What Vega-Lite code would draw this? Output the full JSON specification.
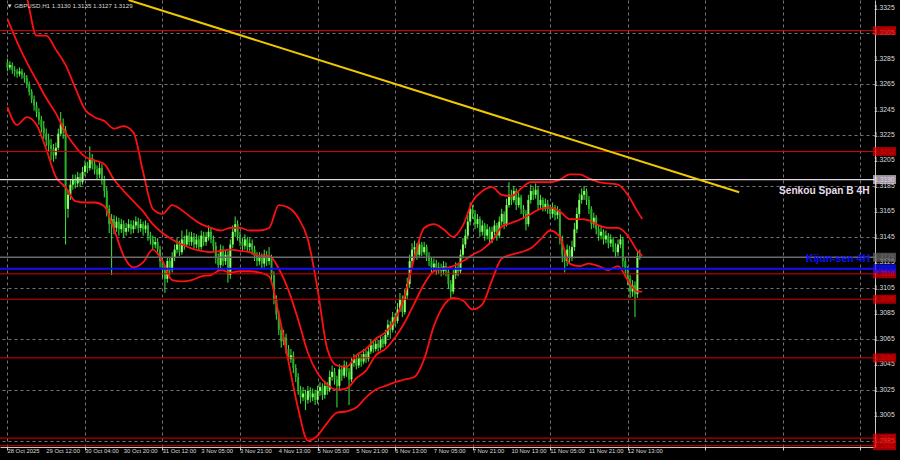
{
"$schema": "https://vega.github.io/schema/vega-lite/v6.json",
"width": 875, "height": 447,
"autosize": {"type": "none"},
"padding": {"left": 0, "top": 0, "right": 25, "bottom": 13},
"background": "#000000",
"config": {
 "view": {"stroke": null},
 "axis": {"labels": false, "domainColor": "#c8c8c8", "domainWidth": 1, "gridColor": "#747474", "gridDash": [3, 3], "gridWidth": 1, "tickColor": "#c8c8c8"}
},
"datasets": {
"candles": [
{"i":0,"o":1.3282,"h":1.3285,"l":1.3275,"c":1.3278},{"i":1,"o":1.3278,"h":1.3283,"l":1.3276,"c":1.3280},{"i":2,"o":1.3280,"h":1.3282,"l":1.3273,"c":1.3276},{"i":3,"o":1.3276,"h":1.3279,"l":1.3271,"c":1.3275},{"i":4,"o":1.3275,"h":1.3277,"l":1.3270,"c":1.3273},{"i":5,"o":1.3273,"h":1.3278,"l":1.3271,"c":1.3275},{"i":6,"o":1.3275,"h":1.3277,"l":1.3269,"c":1.3272},{"i":7,"o":1.3272,"h":1.3274,"l":1.3266,"c":1.3270},{"i":8,"o":1.3270,"h":1.3272,"l":1.3262,"c":1.3265},{"i":9,"o":1.3265,"h":1.3267,"l":1.3256,"c":1.3259},
{"i":10,"o":1.3259,"h":1.3261,"l":1.3250,"c":1.3253},{"i":11,"o":1.3253,"h":1.3256,"l":1.3244,"c":1.3248},{"i":12,"o":1.3248,"h":1.3251,"l":1.3239,"c":1.3243},{"i":13,"o":1.3243,"h":1.3246,"l":1.3233,"c":1.3237},{"i":14,"o":1.3237,"h":1.3240,"l":1.3227,"c":1.3231},{"i":15,"o":1.3231,"h":1.3236,"l":1.3222,"c":1.3226},{"i":16,"o":1.3226,"h":1.3230,"l":1.3216,"c":1.3221},{"i":17,"o":1.3221,"h":1.3226,"l":1.3212,"c":1.3217},{"i":18,"o":1.3217,"h":1.3222,"l":1.3205,"c":1.3214},{"i":19,"o":1.3214,"h":1.3218,"l":1.3204,"c":1.3209},
{"i":20,"o":1.3209,"h":1.3219,"l":1.3206,"c":1.3215},{"i":21,"o":1.3215,"h":1.3230,"l":1.3213,"c":1.3226},{"i":22,"o":1.3226,"h":1.3243,"l":1.3224,"c":1.3234},{"i":23,"o":1.3234,"h":1.3238,"l":1.3222,"c":1.3229},{"i":24,"o":1.3229,"h":1.3232,"l":1.3139,"c":1.3167},{"i":25,"o":1.3167,"h":1.3182,"l":1.3160,"c":1.3178},{"i":26,"o":1.3178,"h":1.3190,"l":1.3174,"c":1.3186},{"i":27,"o":1.3186,"h":1.3194,"l":1.3182,"c":1.3190},{"i":28,"o":1.3190,"h":1.3194,"l":1.3183,"c":1.3187},{"i":29,"o":1.3187,"h":1.3196,"l":1.3184,"c":1.3192},
{"i":30,"o":1.3192,"h":1.3195,"l":1.3184,"c":1.3188},{"i":31,"o":1.3188,"h":1.3200,"l":1.3186,"c":1.3196},{"i":32,"o":1.3196,"h":1.3205,"l":1.3193,"c":1.3201},{"i":33,"o":1.3201,"h":1.3204,"l":1.3195,"c":1.3199},{"i":34,"o":1.3199,"h":1.3216,"l":1.3197,"c":1.3207},{"i":35,"o":1.3207,"h":1.3210,"l":1.3198,"c":1.3202},{"i":36,"o":1.3202,"h":1.3205,"l":1.3194,"c":1.3198},{"i":37,"o":1.3198,"h":1.3201,"l":1.3190,"c":1.3194},{"i":38,"o":1.3194,"h":1.3203,"l":1.3191,"c":1.3199},{"i":39,"o":1.3199,"h":1.3202,"l":1.3186,"c":1.3190},
{"i":40,"o":1.3190,"h":1.3193,"l":1.3176,"c":1.3181},{"i":41,"o":1.3181,"h":1.3184,"l":1.3161,"c":1.3167},{"i":42,"o":1.3167,"h":1.3170,"l":1.3148,"c":1.3155},{"i":43,"o":1.3155,"h":1.3163,"l":1.3115,"c":1.3159},{"i":44,"o":1.3159,"h":1.3162,"l":1.3147,"c":1.3152},{"i":45,"o":1.3152,"h":1.3161,"l":1.3149,"c":1.3157},{"i":46,"o":1.3157,"h":1.3160,"l":1.3146,"c":1.3151},{"i":47,"o":1.3151,"h":1.3159,"l":1.3148,"c":1.3155},{"i":48,"o":1.3155,"h":1.3158,"l":1.3144,"c":1.3149},{"i":49,"o":1.3149,"h":1.3156,"l":1.3146,"c":1.3152},
{"i":50,"o":1.3152,"h":1.3159,"l":1.3149,"c":1.3155},{"i":51,"o":1.3155,"h":1.3158,"l":1.3147,"c":1.3151},{"i":52,"o":1.3151,"h":1.3158,"l":1.3148,"c":1.3154},{"i":53,"o":1.3154,"h":1.3161,"l":1.3151,"c":1.3157},{"i":54,"o":1.3157,"h":1.3160,"l":1.3148,"c":1.3152},{"i":55,"o":1.3152,"h":1.3159,"l":1.3149,"c":1.3155},{"i":56,"o":1.3155,"h":1.3157,"l":1.3146,"c":1.3151},{"i":57,"o":1.3151,"h":1.3158,"l":1.3148,"c":1.3154},{"i":58,"o":1.3154,"h":1.3156,"l":1.3142,"c":1.3146},{"i":59,"o":1.3146,"h":1.3149,"l":1.3139,"c":1.3143},
{"i":60,"o":1.3143,"h":1.3146,"l":1.3135,"c":1.3139},{"i":61,"o":1.3139,"h":1.3145,"l":1.3136,"c":1.3141},{"i":62,"o":1.3141,"h":1.3144,"l":1.3131,"c":1.3135},{"i":63,"o":1.3135,"h":1.3138,"l":1.3121,"c":1.3126},{"i":64,"o":1.3126,"h":1.3129,"l":1.3113,"c":1.3119},{"i":65,"o":1.3119,"h":1.3122,"l":1.3101,"c":1.3112},{"i":66,"o":1.3112,"h":1.3129,"l":1.3109,"c":1.3126},{"i":67,"o":1.3126,"h":1.3129,"l":1.3115,"c":1.3119},{"i":68,"o":1.3119,"h":1.3133,"l":1.3117,"c":1.3129},{"i":69,"o":1.3129,"h":1.3139,"l":1.3126,"c":1.3135},
{"i":70,"o":1.3135,"h":1.3144,"l":1.3132,"c":1.3139},{"i":71,"o":1.3139,"h":1.3142,"l":1.3130,"c":1.3133},{"i":72,"o":1.3133,"h":1.3150,"l":1.3131,"c":1.3143},{"i":73,"o":1.3143,"h":1.3146,"l":1.3135,"c":1.3139},{"i":74,"o":1.3139,"h":1.3151,"l":1.3137,"c":1.3146},{"i":75,"o":1.3146,"h":1.3149,"l":1.3138,"c":1.3141},{"i":76,"o":1.3141,"h":1.3149,"l":1.3138,"c":1.3145},{"i":77,"o":1.3145,"h":1.3148,"l":1.3136,"c":1.3139},{"i":78,"o":1.3139,"h":1.3147,"l":1.3136,"c":1.3143},{"i":79,"o":1.3143,"h":1.3146,"l":1.3134,"c":1.3137},
{"i":80,"o":1.3137,"h":1.3150,"l":1.3135,"c":1.3146},{"i":81,"o":1.3146,"h":1.3149,"l":1.3138,"c":1.3141},{"i":82,"o":1.3141,"h":1.3149,"l":1.3138,"c":1.3145},{"i":83,"o":1.3145,"h":1.3154,"l":1.3142,"c":1.3149},{"i":84,"o":1.3149,"h":1.3152,"l":1.3140,"c":1.3143},{"i":85,"o":1.3143,"h":1.3146,"l":1.3134,"c":1.3138},{"i":86,"o":1.3138,"h":1.3141,"l":1.3124,"c":1.3129},{"i":87,"o":1.3129,"h":1.3132,"l":1.3118,"c":1.3123},{"i":88,"o":1.3123,"h":1.3139,"l":1.3120,"c":1.3135},{"i":89,"o":1.3135,"h":1.3138,"l":1.3122,"c":1.3126},
{"i":90,"o":1.3126,"h":1.3135,"l":1.3123,"c":1.3131},{"i":91,"o":1.3131,"h":1.3134,"l":1.3109,"c":1.3115},{"i":92,"o":1.3115,"h":1.3143,"l":1.3112,"c":1.3139},{"i":93,"o":1.3139,"h":1.3154,"l":1.3136,"c":1.3149},{"i":94,"o":1.3149,"h":1.3161,"l":1.3145,"c":1.3155},{"i":95,"o":1.3155,"h":1.3158,"l":1.3142,"c":1.3146},{"i":96,"o":1.3146,"h":1.3149,"l":1.3138,"c":1.3141},{"i":97,"o":1.3141,"h":1.3144,"l":1.3134,"c":1.3138},{"i":98,"o":1.3138,"h":1.3147,"l":1.3135,"c":1.3143},{"i":99,"o":1.3143,"h":1.3145,"l":1.3133,"c":1.3137},
{"i":100,"o":1.3137,"h":1.3144,"l":1.3134,"c":1.3140},{"i":101,"o":1.3140,"h":1.3143,"l":1.3131,"c":1.3135},{"i":102,"o":1.3135,"h":1.3138,"l":1.3126,"c":1.3130},{"i":103,"o":1.3130,"h":1.3133,"l":1.3122,"c":1.3126},{"i":104,"o":1.3126,"h":1.3133,"l":1.3123,"c":1.3129},{"i":105,"o":1.3129,"h":1.3132,"l":1.3120,"c":1.3124},{"i":106,"o":1.3124,"h":1.3135,"l":1.3121,"c":1.3131},{"i":107,"o":1.3131,"h":1.3134,"l":1.3122,"c":1.3126},{"i":108,"o":1.3126,"h":1.3137,"l":1.3123,"c":1.3129},{"i":109,"o":1.3129,"h":1.3131,"l":1.3110,"c":1.3115},
{"i":110,"o":1.3115,"h":1.3118,"l":1.3092,"c":1.3096},{"i":111,"o":1.3096,"h":1.3099,"l":1.3080,"c":1.3084},{"i":112,"o":1.3084,"h":1.3087,"l":1.3068,"c":1.3072},{"i":113,"o":1.3072,"h":1.3075,"l":1.3058,"c":1.3063},{"i":114,"o":1.3063,"h":1.3072,"l":1.3060,"c":1.3066},{"i":115,"o":1.3066,"h":1.3069,"l":1.3053,"c":1.3057},{"i":116,"o":1.3057,"h":1.3060,"l":1.3045,"c":1.3049},{"i":117,"o":1.3049,"h":1.3057,"l":1.3046,"c":1.3052},{"i":118,"o":1.3052,"h":1.3055,"l":1.3038,"c":1.3042},{"i":119,"o":1.3042,"h":1.3045,"l":1.3031,"c":1.3035},
{"i":120,"o":1.3035,"h":1.3038,"l":1.3021,"c":1.3025},{"i":121,"o":1.3025,"h":1.3028,"l":1.3014,"c":1.3019},{"i":122,"o":1.3019,"h":1.3027,"l":1.3016,"c":1.3022},{"i":123,"o":1.3022,"h":1.3025,"l":1.3009,"c":1.3017},{"i":124,"o":1.3017,"h":1.3028,"l":1.3014,"c":1.3024},{"i":125,"o":1.3024,"h":1.3027,"l":1.3015,"c":1.3019},{"i":126,"o":1.3019,"h":1.3026,"l":1.3016,"c":1.3022},{"i":127,"o":1.3022,"h":1.3025,"l":1.3013,"c":1.3017},{"i":128,"o":1.3017,"h":1.3028,"l":1.3014,"c":1.3024},{"i":129,"o":1.3024,"h":1.3031,"l":1.3020,"c":1.3027},
{"i":130,"o":1.3027,"h":1.3030,"l":1.3017,"c":1.3021},{"i":131,"o":1.3021,"h":1.3032,"l":1.3018,"c":1.3028},{"i":132,"o":1.3028,"h":1.3031,"l":1.3021,"c":1.3025},{"i":133,"o":1.3025,"h":1.3040,"l":1.3023,"c":1.3035},{"i":134,"o":1.3035,"h":1.3044,"l":1.3032,"c":1.3039},{"i":135,"o":1.3039,"h":1.3042,"l":1.3029,"c":1.3033},{"i":136,"o":1.3033,"h":1.3036,"l":1.3011,"c":1.3028},{"i":137,"o":1.3028,"h":1.3045,"l":1.3025,"c":1.3041},{"i":138,"o":1.3041,"h":1.3044,"l":1.3032,"c":1.3036},{"i":139,"o":1.3036,"h":1.3048,"l":1.3034,"c":1.3044},
{"i":140,"o":1.3044,"h":1.3047,"l":1.3035,"c":1.3039},{"i":141,"o":1.3039,"h":1.3042,"l":1.3013,"c":1.3033},{"i":142,"o":1.3033,"h":1.3050,"l":1.3031,"c":1.3046},{"i":143,"o":1.3046,"h":1.3053,"l":1.3043,"c":1.3049},{"i":144,"o":1.3049,"h":1.3052,"l":1.3041,"c":1.3044},{"i":145,"o":1.3044,"h":1.3054,"l":1.3042,"c":1.3050},{"i":146,"o":1.3050,"h":1.3053,"l":1.3043,"c":1.3047},{"i":147,"o":1.3047,"h":1.3057,"l":1.3045,"c":1.3053},{"i":148,"o":1.3053,"h":1.3056,"l":1.3046,"c":1.3049},{"i":149,"o":1.3049,"h":1.3059,"l":1.3047,"c":1.3055},
{"i":150,"o":1.3055,"h":1.3064,"l":1.3053,"c":1.3060},{"i":151,"o":1.3060,"h":1.3063,"l":1.3054,"c":1.3057},{"i":152,"o":1.3057,"h":1.3065,"l":1.3055,"c":1.3061},{"i":153,"o":1.3061,"h":1.3064,"l":1.3055,"c":1.3058},{"i":154,"o":1.3058,"h":1.3068,"l":1.3056,"c":1.3064},{"i":155,"o":1.3064,"h":1.3067,"l":1.3058,"c":1.3061},{"i":156,"o":1.3061,"h":1.3072,"l":1.3059,"c":1.3068},{"i":157,"o":1.3068,"h":1.3080,"l":1.3066,"c":1.3076},{"i":158,"o":1.3076,"h":1.3079,"l":1.3065,"c":1.3072},{"i":159,"o":1.3072,"h":1.3086,"l":1.3070,"c":1.3082},
{"i":160,"o":1.3082,"h":1.3085,"l":1.3075,"c":1.3079},{"i":161,"o":1.3079,"h":1.3093,"l":1.3077,"c":1.3088},{"i":162,"o":1.3088,"h":1.3101,"l":1.3086,"c":1.3096},{"i":163,"o":1.3096,"h":1.3099,"l":1.3082,"c":1.3086},{"i":164,"o":1.3086,"h":1.3104,"l":1.3084,"c":1.3099},{"i":165,"o":1.3099,"h":1.3113,"l":1.3096,"c":1.3108},{"i":166,"o":1.3108,"h":1.3131,"l":1.3105,"c":1.3126},{"i":167,"o":1.3126,"h":1.3140,"l":1.3122,"c":1.3135},{"i":168,"o":1.3135,"h":1.3142,"l":1.3130,"c":1.3137},{"i":169,"o":1.3137,"h":1.3140,"l":1.3127,"c":1.3131},
{"i":170,"o":1.3131,"h":1.3143,"l":1.3129,"c":1.3139},{"i":171,"o":1.3139,"h":1.3141,"l":1.3130,"c":1.3133},{"i":172,"o":1.3133,"h":1.3141,"l":1.3131,"c":1.3137},{"i":173,"o":1.3137,"h":1.3139,"l":1.3126,"c":1.3130},{"i":174,"o":1.3130,"h":1.3133,"l":1.3122,"c":1.3126},{"i":175,"o":1.3126,"h":1.3129,"l":1.3117,"c":1.3121},{"i":176,"o":1.3121,"h":1.3128,"l":1.3118,"c":1.3124},{"i":177,"o":1.3124,"h":1.3127,"l":1.3115,"c":1.3119},{"i":178,"o":1.3119,"h":1.3125,"l":1.3116,"c":1.3121},{"i":179,"o":1.3121,"h":1.3124,"l":1.3114,"c":1.3118},
{"i":180,"o":1.3118,"h":1.3126,"l":1.3115,"c":1.3122},{"i":181,"o":1.3122,"h":1.3125,"l":1.3114,"c":1.3118},{"i":182,"o":1.3118,"h":1.3120,"l":1.3104,"c":1.3108},{"i":183,"o":1.3108,"h":1.3111,"l":1.3096,"c":1.3102},{"i":184,"o":1.3102,"h":1.3119,"l":1.3100,"c":1.3115},{"i":185,"o":1.3115,"h":1.3125,"l":1.3112,"c":1.3121},{"i":186,"o":1.3121,"h":1.3124,"l":1.3114,"c":1.3118},{"i":187,"o":1.3118,"h":1.3135,"l":1.3116,"c":1.3131},{"i":188,"o":1.3131,"h":1.3144,"l":1.3128,"c":1.3139},{"i":189,"o":1.3139,"h":1.3151,"l":1.3136,"c":1.3146},
{"i":190,"o":1.3146,"h":1.3162,"l":1.3143,"c":1.3157},{"i":191,"o":1.3157,"h":1.3172,"l":1.3154,"c":1.3167},{"i":192,"o":1.3167,"h":1.3170,"l":1.3159,"c":1.3163},{"i":193,"o":1.3163,"h":1.3166,"l":1.3151,"c":1.3155},{"i":194,"o":1.3155,"h":1.3163,"l":1.3152,"c":1.3159},{"i":195,"o":1.3159,"h":1.3161,"l":1.3145,"c":1.3149},{"i":196,"o":1.3149,"h":1.3158,"l":1.3146,"c":1.3154},{"i":197,"o":1.3154,"h":1.3156,"l":1.3142,"c":1.3146},{"i":198,"o":1.3146,"h":1.3155,"l":1.3143,"c":1.3151},{"i":199,"o":1.3151,"h":1.3153,"l":1.3139,"c":1.3143},
{"i":200,"o":1.3143,"h":1.3153,"l":1.3140,"c":1.3149},{"i":201,"o":1.3149,"h":1.3158,"l":1.3146,"c":1.3154},{"i":202,"o":1.3154,"h":1.3156,"l":1.3142,"c":1.3146},{"i":203,"o":1.3146,"h":1.3161,"l":1.3144,"c":1.3157},{"i":204,"o":1.3157,"h":1.3167,"l":1.3154,"c":1.3163},{"i":205,"o":1.3163,"h":1.3165,"l":1.3151,"c":1.3155},{"i":206,"o":1.3155,"h":1.3175,"l":1.3153,"c":1.3170},{"i":207,"o":1.3170,"h":1.3188,"l":1.3168,"c":1.3178},{"i":208,"o":1.3178,"h":1.3182,"l":1.3170,"c":1.3174},{"i":209,"o":1.3174,"h":1.3185,"l":1.3172,"c":1.3181},
{"i":210,"o":1.3181,"h":1.3183,"l":1.3166,"c":1.3170},{"i":211,"o":1.3170,"h":1.3180,"l":1.3168,"c":1.3176},{"i":212,"o":1.3176,"h":1.3178,"l":1.3163,"c":1.3167},{"i":213,"o":1.3167,"h":1.3170,"l":1.3159,"c":1.3163},{"i":214,"o":1.3163,"h":1.3166,"l":1.3150,"c":1.3155},{"i":215,"o":1.3155,"h":1.3178,"l":1.3153,"c":1.3174},{"i":216,"o":1.3174,"h":1.3186,"l":1.3171,"c":1.3181},{"i":217,"o":1.3181,"h":1.3184,"l":1.3174,"c":1.3178},{"i":218,"o":1.3178,"h":1.3187,"l":1.3175,"c":1.3182},{"i":219,"o":1.3182,"h":1.3184,"l":1.3166,"c":1.3170},
{"i":220,"o":1.3170,"h":1.3178,"l":1.3167,"c":1.3174},{"i":221,"o":1.3174,"h":1.3176,"l":1.3165,"c":1.3168},{"i":222,"o":1.3168,"h":1.3175,"l":1.3165,"c":1.3171},{"i":223,"o":1.3171,"h":1.3174,"l":1.3163,"c":1.3167},{"i":224,"o":1.3167,"h":1.3170,"l":1.3159,"c":1.3163},{"i":225,"o":1.3163,"h":1.3172,"l":1.3160,"c":1.3168},{"i":226,"o":1.3168,"h":1.3170,"l":1.3158,"c":1.3162},{"i":227,"o":1.3162,"h":1.3169,"l":1.3159,"c":1.3165},{"i":228,"o":1.3165,"h":1.3167,"l":1.3139,"c":1.3143},{"i":229,"o":1.3143,"h":1.3146,"l":1.3125,"c":1.3131},
{"i":230,"o":1.3131,"h":1.3135,"l":1.3117,"c":1.3126},{"i":231,"o":1.3126,"h":1.3139,"l":1.3122,"c":1.3135},{"i":232,"o":1.3135,"h":1.3138,"l":1.3124,"c":1.3129},{"i":233,"o":1.3129,"h":1.3142,"l":1.3126,"c":1.3137},{"i":234,"o":1.3137,"h":1.3156,"l":1.3134,"c":1.3151},{"i":235,"o":1.3151,"h":1.3168,"l":1.3148,"c":1.3163},{"i":236,"o":1.3163,"h":1.3179,"l":1.3160,"c":1.3174},{"i":237,"o":1.3174,"h":1.3183,"l":1.3171,"c":1.3178},{"i":238,"o":1.3178,"h":1.3185,"l":1.3174,"c":1.3181},{"i":239,"o":1.3181,"h":1.3183,"l":1.3170,"c":1.3174},
{"i":240,"o":1.3174,"h":1.3177,"l":1.3163,"c":1.3167},{"i":241,"o":1.3167,"h":1.3169,"l":1.3151,"c":1.3155},{"i":242,"o":1.3155,"h":1.3164,"l":1.3152,"c":1.3160},{"i":243,"o":1.3160,"h":1.3162,"l":1.3147,"c":1.3151},{"i":244,"o":1.3151,"h":1.3154,"l":1.3142,"c":1.3146},{"i":245,"o":1.3146,"h":1.3153,"l":1.3143,"c":1.3149},{"i":246,"o":1.3149,"h":1.3151,"l":1.3139,"c":1.3143},{"i":247,"o":1.3143,"h":1.3150,"l":1.3140,"c":1.3146},{"i":248,"o":1.3146,"h":1.3148,"l":1.3136,"c":1.3140},{"i":249,"o":1.3140,"h":1.3147,"l":1.3137,"c":1.3143},
{"i":250,"o":1.3143,"h":1.3145,"l":1.3133,"c":1.3137},{"i":251,"o":1.3137,"h":1.3140,"l":1.3129,"c":1.3133},{"i":252,"o":1.3133,"h":1.3143,"l":1.3130,"c":1.3139},{"i":253,"o":1.3139,"h":1.3147,"l":1.3136,"c":1.3143},{"i":254,"o":1.3143,"h":1.3145,"l":1.3121,"c":1.3126},{"i":255,"o":1.3126,"h":1.3129,"l":1.3114,"c":1.3119},{"i":256,"o":1.3119,"h":1.3122,"l":1.3107,"c":1.3112},{"i":257,"o":1.3112,"h":1.3115,"l":1.3097,"c":1.3102},{"i":258,"o":1.3102,"h":1.3111,"l":1.3098,"c":1.3107},{"i":259,"o":1.3107,"h":1.3110,"l":1.3082,"c":1.3100},
{"i":260,"o":1.3100,"h":1.3134,"l":1.3097,"c":1.3130},{"i":261,"o":1.3130,"h":1.3135,"l":1.3127,"c":1.3129}
],
"bands": [
{"i":0,"u":1.3367,"m":1.3316,"lw":1.3247},{"i":4,"u":1.3353,"m":1.3298,"lw":1.3233},{"i":8,"u":1.3333,"m":1.3282,"lw":1.3239},{"i":12,"u":1.3303,"m":1.3268,"lw":1.3233},{"i":16,"u":1.3303,"m":1.3254,"lw":1.3214},{"i":20,"u":1.3292,"m":1.3242,"lw":1.3192},{"i":24,"u":1.3280,"m":1.3227,"lw":1.3184},{"i":28,"u":1.3262,"m":1.3216,"lw":1.3173},{"i":32,"u":1.3245,"m":1.3208,"lw":1.3172},{"i":36,"u":1.3239,"m":1.3205,"lw":1.3172},
{"i":40,"u":1.3236,"m":1.3202,"lw":1.3169},{"i":44,"u":1.3230,"m":1.3190,"lw":1.3151},{"i":48,"u":1.3232,"m":1.3181,"lw":1.3130},{"i":52,"u":1.3227,"m":1.3173,"lw":1.3121},{"i":56,"u":1.3196,"m":1.3165,"lw":1.3125},{"i":60,"u":1.3167,"m":1.3155,"lw":1.3135},{"i":64,"u":1.3163,"m":1.3148,"lw":1.3126},{"i":68,"u":1.3170,"m":1.3143,"lw":1.3111},{"i":72,"u":1.3166,"m":1.3139,"lw":1.3110},{"i":76,"u":1.3160,"m":1.3136,"lw":1.3111},
{"i":80,"u":1.3155,"m":1.3134,"lw":1.3114},{"i":84,"u":1.3152,"m":1.3133,"lw":1.3115},{"i":88,"u":1.3150,"m":1.3134,"lw":1.3119},{"i":92,"u":1.3152,"m":1.3135,"lw":1.3117},{"i":96,"u":1.3152,"m":1.3134,"lw":1.3118},{"i":100,"u":1.3150,"m":1.3133,"lw":1.3118},{"i":104,"u":1.3150,"m":1.3130,"lw":1.3117},{"i":108,"u":1.3152,"m":1.3130,"lw":1.3114},{"i":112,"u":1.3170,"m":1.3120,"lw":1.3084},{"i":116,"u":1.3168,"m":1.3103,"lw":1.3047},
{"i":120,"u":1.3160,"m":1.3080,"lw":1.3010},{"i":124,"u":1.3143,"m":1.3054,"lw":1.2985},{"i":128,"u":1.3104,"m":1.3038,"lw":1.2989},{"i":132,"u":1.3057,"m":1.3029,"lw":1.2999},{"i":136,"u":1.3044,"m":1.3025,"lw":1.3007},{"i":140,"u":1.3043,"m":1.3026,"lw":1.3008},{"i":144,"u":1.3052,"m":1.3034,"lw":1.3011},{"i":148,"u":1.3057,"m":1.3040,"lw":1.3019},{"i":152,"u":1.3065,"m":1.3052,"lw":1.3025},{"i":156,"u":1.3070,"m":1.3057,"lw":1.3028},
{"i":160,"u":1.3080,"m":1.3066,"lw":1.3031},{"i":164,"u":1.3099,"m":1.3078,"lw":1.3033},{"i":168,"u":1.3129,"m":1.3093,"lw":1.3035},{"i":172,"u":1.3152,"m":1.3108,"lw":1.3049},{"i":176,"u":1.3155,"m":1.3118,"lw":1.3075},{"i":180,"u":1.3151,"m":1.3120,"lw":1.3091},{"i":184,"u":1.3145,"m":1.3122,"lw":1.3097},{"i":188,"u":1.3154,"m":1.3126,"lw":1.3095},{"i":192,"u":1.3173,"m":1.3131,"lw":1.3088},{"i":196,"u":1.3181,"m":1.3135,"lw":1.3092},
{"i":200,"u":1.3184,"m":1.3142,"lw":1.3111},{"i":204,"u":1.3178,"m":1.3153,"lw":1.3128},{"i":208,"u":1.3177,"m":1.3156,"lw":1.3131},{"i":212,"u":1.3183,"m":1.3159,"lw":1.3133},{"i":216,"u":1.3188,"m":1.3163,"lw":1.3136},{"i":220,"u":1.3188,"m":1.3167,"lw":1.3143},{"i":224,"u":1.3188,"m":1.3168,"lw":1.3150},{"i":228,"u":1.3190,"m":1.3165,"lw":1.3145},{"i":232,"u":1.3194,"m":1.3159,"lw":1.3124},{"i":236,"u":1.3194,"m":1.3159,"lw":1.3122},
{"i":240,"u":1.3191,"m":1.3158,"lw":1.3124},{"i":244,"u":1.3188,"m":1.3154,"lw":1.3122},{"i":248,"u":1.3187,"m":1.3152,"lw":1.3119},{"i":252,"u":1.3186,"m":1.3152,"lw":1.3122},{"i":256,"u":1.3178,"m":1.3146,"lw":1.3111},{"i":260,"u":1.3165,"m":1.3134,"lw":1.3102},{"i":262,"u":1.3159,"m":1.3130,"lw":1.3102}
],
"levels": [
{"p":1.3307,"k":"level","name":""},{"p":1.3212,"k":"level","name":""},{"p":1.3116,"k":"level","name":""},{"p":1.3096,"k":"level","name":""},{"p":1.3050,"k":"level","name":""},{"p":1.2987,"k":"level","name":""},{"p":1.2981,"k":"level","name":""},
{"p":1.3190,"k":"senkou","name":"Senkou Span B 4H"},{"p":1.3129,"k":"price","name":""},{"p":1.3120,"k":"kijun","name":"Kijun-sen 4H"}
],
"yticks": [{"p":1.2985},{"p":1.3005},{"p":1.3025},{"p":1.3045},{"p":1.3065},{"p":1.3085},{"p":1.3105},{"p":1.3125},{"p":1.3145},{"p":1.3165},{"p":1.3185},{"p":1.3205},{"p":1.3225},{"p":1.3245},{"p":1.3265},{"p":1.3285},{"p":1.3305},{"p":1.3325}],
"xticks": [{"i":0,"t":"28 Oct 2025"},{"i":16,"t":"29 Oct 12:00"},{"i":32,"t":"30 Oct 04:00"},{"i":48,"t":"30 Oct 20:00"},{"i":64,"t":"31 Oct 12:00"},{"i":80,"t":"3 Nov 05:00"},{"i":96,"t":"3 Nov 21:00"},{"i":112,"t":"4 Nov 13:00"},{"i":128,"t":"5 Nov 05:00"},{"i":144,"t":"5 Nov 21:00"},{"i":160,"t":"6 Nov 13:00"},{"i":176,"t":"7 Nov 05:00"},{"i":192,"t":"7 Nov 21:00"},{"i":208,"t":"10 Nov 13:00"},{"i":224,"t":"11 Nov 05:00"},{"i":240,"t":"11 Nov 21:00"},{"i":256,"t":"12 Nov 13:00"}],
"trend": [{"i":50,"p":1.3331},{"i":302,"p":1.3180}],
"header": [{"t":"▼ GBPUSD,H1  1.3130 1.3135 1.3127 1.3129"}]
},
"layer": [
{
 "data": {"name": "candles"},
 "mark": {"type": "rule", "strokeWidth": 1},
 "encoding": {
  "x": {"field": "i", "type": "quantitative", "scale": {"domain": [-1, 356], "nice": false, "zero": false},
   "axis": {"title": null, "orient": "bottom", "values": [0,16,32,48,64,80,96,112,128,144,160,176,192,208,224,240,256,272,288,304,320,336,352], "labels": false, "tickSize": 3, "grid": true}},
  "y": {"field": "l", "type": "quantitative", "scale": {"domain": [1.2980, 1.3331], "nice": false, "zero": false},
   "axis": {"title": null, "orient": "right", "values": [1.2985,1.3005,1.3025,1.3045,1.3065,1.3085,1.3105,1.3125,1.3145,1.3165,1.3185,1.3205,1.3225,1.3245,1.3265,1.3285,1.3305,1.3325], "labels": false, "ticks": false, "grid": true}},
  "y2": {"field": "h"},
  "color": {"value": "#3ee83e"}
 }
},
{
 "data": {"name": "candles"},
 "mark": {"type": "bar", "width": 2},
 "encoding": {
  "x": {"field": "i", "type": "quantitative"},
  "y": {"field": "o", "type": "quantitative"},
  "y2": {"field": "c"},
  "color": {"condition": {"test": "datum.c >= datum.o", "value": "#8aff66"}, "value": "#27b327"}
 }
},
{
 "data": {"name": "bands"},
 "mark": {"type": "line", "color": "#ff1010", "strokeWidth": 1.8, "interpolate": "monotone", "clip": true},
 "encoding": {
  "x": {"field": "i", "type": "quantitative"},
  "y": {"field": "u", "type": "quantitative"}
 }
},
{
 "data": {"name": "bands"},
 "mark": {"type": "line", "color": "#ff1010", "strokeWidth": 1.8, "interpolate": "monotone", "clip": true},
 "encoding": {
  "x": {"field": "i", "type": "quantitative"},
  "y": {"field": "m", "type": "quantitative"}
 }
},
{
 "data": {"name": "bands"},
 "mark": {"type": "line", "color": "#ff1010", "strokeWidth": 1.8, "interpolate": "monotone", "clip": true},
 "encoding": {
  "x": {"field": "i", "type": "quantitative"},
  "y": {"field": "lw", "type": "quantitative"}
 }
},
{
 "data": {"name": "levels"},
 "mark": {"type": "rule"},
 "encoding": {
  "y": {"field": "p", "type": "quantitative"},
  "color": {"field": "k", "type": "nominal", "legend": null, "scale": {"domain": ["level","senkou","price","kijun"], "range": ["#e00000","#e2d6e6","#6a6a6a","#1010ff"]}},
  "strokeWidth": {"field": "k", "type": "nominal", "legend": null, "scale": {"domain": ["level","senkou","price","kijun"], "range": [1, 2, 2, 3]}}
 }
},
{
 "data": {"name": "trend"},
 "mark": {"type": "line", "color": "#f0c800", "strokeWidth": 2, "clip": true},
 "encoding": {
  "x": {"field": "i", "type": "quantitative"},
  "y": {"field": "p", "type": "quantitative"}
 }
},
{
 "data": {"name": "yticks"},
 "mark": {"type": "text", "font": "Liberation Sans", "fontSize": 6.8, "align": "left", "baseline": "middle", "color": "#dcdcdc"},
 "encoding": {
  "x": {"datum": 357.6, "type": "quantitative"},
  "y": {"field": "p", "type": "quantitative"},
  "text": {"field": "p", "type": "quantitative", "format": ".4f"}
 }
},
{
 "data": {"name": "xticks"},
 "mark": {"type": "text", "font": "Liberation Sans", "fontSize": 5.9, "align": "left", "baseline": "top", "color": "#dcdcdc"},
 "encoding": {
  "x": {"field": "i", "type": "quantitative"},
  "y": {"datum": 1.2979, "type": "quantitative"},
  "text": {"field": "t"}
 }
},
{
 "data": {"name": "levels"},
 "mark": {"type": "tick", "orient": "horizontal", "size": 23, "thickness": 9},
 "encoding": {
  "x": {"datum": 362.0, "type": "quantitative"},
  "y": {"field": "p", "type": "quantitative"},
  "color": {"field": "k", "type": "nominal", "legend": null, "scale": {"domain": ["level","senkou","price","kijun"], "range": ["#e00000","#e2d6e6","#f0f0f0","#1010ff"]}}
 }
},
{
 "data": {"name": "levels"},
 "mark": {"type": "text", "font": "Liberation Sans", "fontSize": 6.5, "baseline": "middle", "align": "center"},
 "encoding": {
  "x": {"datum": 362.0, "type": "quantitative"},
  "y": {"field": "p", "type": "quantitative"},
  "text": {"field": "p", "type": "quantitative", "format": ".4f"},
  "color": {"field": "k", "type": "nominal", "legend": null, "scale": {"domain": ["level","senkou","price","kijun"], "range": ["#ffffff","#202020","#000000","#ffffff"]}}
 }
},
{
 "data": {"name": "levels"},
 "transform": [{"filter": "datum.k == 'senkou'"}],
 "mark": {"type": "text", "font": "Liberation Sans", "fontSize": 10.2, "fontWeight": "bold", "align": "right", "baseline": "alphabetic", "dy": 14, "color": "#e6dcea"},
 "encoding": {
  "x": {"datum": 355.8, "type": "quantitative"},
  "y": {"field": "p", "type": "quantitative"},
  "text": {"field": "name"}
 }
},
{
 "data": {"name": "levels"},
 "transform": [{"filter": "datum.k == 'kijun'"}],
 "mark": {"type": "text", "font": "Liberation Sans", "fontSize": 10.5, "fontWeight": "bold", "align": "right", "baseline": "alphabetic", "dy": -7, "color": "#1010ff"},
 "encoding": {
  "x": {"datum": 356.0, "type": "quantitative"},
  "y": {"field": "p", "type": "quantitative"},
  "text": {"field": "name"}
 }
},
{
 "data": {"name": "header"},
 "mark": {"type": "text", "font": "Liberation Sans", "fontSize": 6.2, "align": "left", "baseline": "top", "dy": 3, "color": "#d8d8d8"},
 "encoding": {
  "x": {"datum": -0.4, "type": "quantitative"},
  "y": {"datum": 1.3331, "type": "quantitative"},
  "text": {"field": "t"}
 }
}
]
}
